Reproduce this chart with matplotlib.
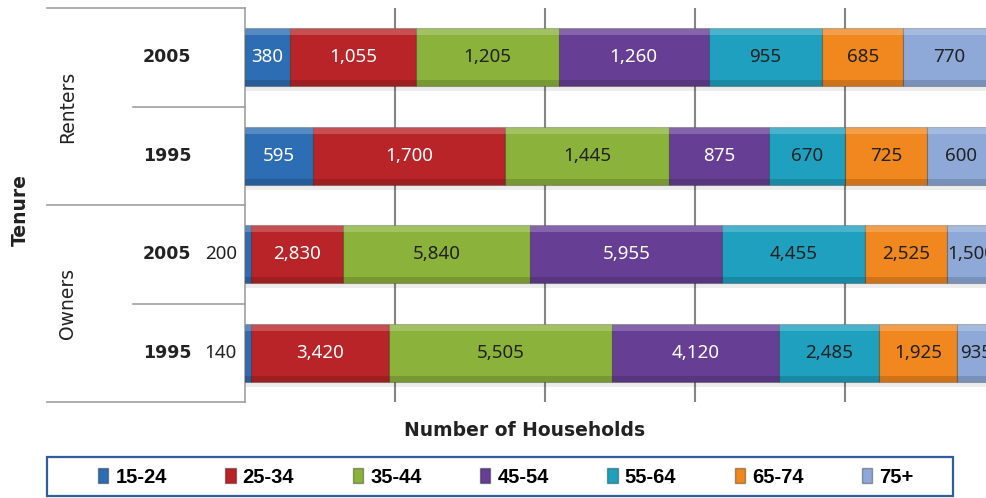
import matplotlib.pyplot as plt
from matplotlib.patches import Patch, Rectangle
from matplotlib.transforms import blended_transform_factory
import numpy as np

# Data
age_groups = ['15-24', '25-34', '35-44', '45-54', '55-64', '65-74', '75+']
rows = ['Renters 2005', 'Renters 1995', 'Owners 2005', 'Owners 1995']
years = ['2005', '1995', '2005', '1995']
groups = ['Renters', 'Owners']

renters_2005 = [380, 1055, 1205, 1260, 955, 685, 770]
renters_1995 = [595, 1700, 1445, 875, 670, 725, 600]
owners_2005 = [200, 2830, 5840, 5955, 4455, 2525, 1500]
owners_1995 = [140, 3420, 5505, 4120, 2485, 1925, 935]

colors = ['#2d6db3', '#b82427', '#8bb23b', '#663f95', '#1fa0bf', '#f0871f', '#8ea9d8']
text_colors = ['white', 'white', '#222222', 'white', '#222222', '#222222', '#222222']

values = np.array([renters_2005, renters_1995, owners_2005, owners_1995], dtype=float)
shares = values / values.sum(axis=1, keepdims=True)

fig = plt.figure(figsize=(9.87, 4.98), dpi=100)
ax = fig.add_axes([245 / 987, 1 - 402 / 498, 750 / 987, 394 / 498])

y = np.arange(len(rows))
h = 0.59
left = np.zeros(len(rows))
for i in range(len(age_groups)):
    w = shares[:, i]
    # shadow
    ax.barh(y + 0.05, w, left=left, height=h, color='#000000', alpha=0.07,
            zorder=2, linewidth=0)
    ax.barh(y, w, left=left, height=h, color=colors[i], zorder=3,
            edgecolor='#00000045', linewidth=0.8)
    # soft top highlight and bottom shade
    ax.barh(y - h / 2 + 0.035, w, left=left, height=0.07, color='white',
            alpha=0.2, zorder=4, linewidth=0)
    ax.barh(y + h / 2 - 0.03, w, left=left, height=0.06, color='black',
            alpha=0.14, zorder=4, linewidth=0)
    for r in range(len(rows)):
        label = f'{int(values[r, i]):,}'
        if w[r] < 0.03:
            ax.text(left[r] - 0.011, y[r], label, ha='right', va='center',
                    fontsize=13.5, color='#222222', family='Noto Sans', zorder=5)
        else:
            ax.text(left[r] + w[r] / 2, y[r], label, ha='center', va='center',
                    fontsize=13.5, color=text_colors[i], family='Noto Sans', zorder=5)
    left += w

ax.set_xlim(0, 1)
ax.set_ylim(3.5, -0.5)
ax.set_xticks([0.2, 0.4, 0.6, 0.8])
ax.set_xticklabels([])
ax.set_yticks([])
ax.tick_params(length=0)
ax.set_axisbelow(True)
ax.grid(axis='x', color='#858585', linewidth=1.5)
for s in ['top', 'right', 'bottom']:
    ax.spines[s].set_visible(False)
ax.spines['left'].set_color('#a0a0a0')
ax.spines['left'].set_linewidth(1.2)

# Category table on the left
tr = blended_transform_factory(ax.transAxes, ax.transData)
x_full = (47 - 245) / 750
x_part = (133 - 245) / 750
for yy, x0 in [(-0.5, x_full), (0.5, x_part), (1.5, x_full), (2.5, x_part), (3.5, x_full)]:
    ax.plot([x0, 0], [yy, yy], transform=tr, color='#a0a0a0', lw=1.2, clip_on=False)

for r in range(len(rows)):
    ax.text((167 - 245) / 750, y[r], years[r], transform=tr, ha='center', va='center',
            fontsize=12.5, fontweight='bold', color='#222222')
for g, yc in zip(groups, [0.5, 2.5]):
    ax.text((68 - 245) / 750, yc, g, transform=tr, ha='center', va='center',
            rotation=90, fontsize=13.5, color='#222222')

fig.text(20 / 987, 1 - 210 / 498, 'Tenure', rotation=90, ha='center', va='center',
         fontsize=13.5, fontweight='bold', color='#222222')
fig.text(525 / 987, 1 - 430 / 498, 'Number of Households', ha='center', va='center',
         fontsize=13.5, fontweight='bold', color='#222222')

# Legend with a separate frame
fig.patches.append(Rectangle((47 / 987, 1 - 496 / 498), 906 / 987, 39 / 498,
                             transform=fig.transFigure, facecolor='white',
                             edgecolor='#2f5f9a', linewidth=1.6))
handles = [Patch(facecolor=c, edgecolor='#00000055') for c in colors]
leg = fig.legend(handles, age_groups, ncol=7, loc='center',
                 bbox_to_anchor=(506 / 987, 1 - 477 / 498), frameon=False,
                 handlelength=0.5, handleheight=0.75, handletextpad=0.35,
                 columnspacing=2.92,
                 prop={'family': 'Liberation Sans', 'weight': 'bold', 'size': 14.5})

plt.savefig('out.png', dpi=100)
